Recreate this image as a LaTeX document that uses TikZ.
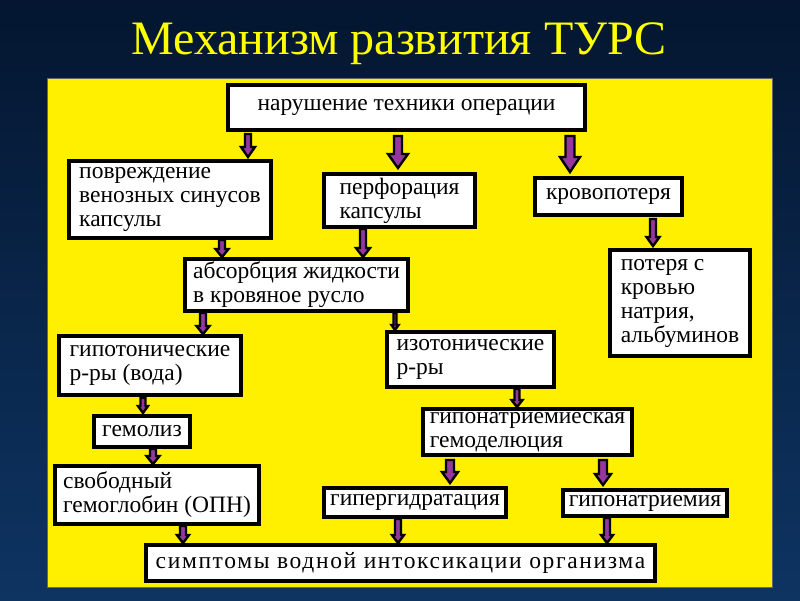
\documentclass[tikz,border=0pt]{standalone}
\usepackage{fontspec}
\setmainfont{Liberation Serif}
\usetikzlibrary{calc}
\definecolor{bgtop}{RGB}{4,22,48}
\definecolor{bgbot}{RGB}{14,52,98}
\definecolor{panel}{RGB}{255,240,0}
\definecolor{titleyellow}{RGB}{255,255,0}
\definecolor{flowviolet}{RGB}{150,55,160}

\begin{document}
\begin{tikzpicture}[x=1pt,y=-1pt,
    cause/.style={draw=black, line width=4pt, fill=white, align=left,
      inner xsep=6pt, inner ysep=0pt, font=\fontsize{23.5}{24}\selectfont},
    flow/.style={fill=flowviolet, draw=black, line width=2.4pt, line join=miter}]
  \useasboundingbox (0,0) rectangle (800,600);
  % background and panel
  \shade[top color=bgtop, bottom color=bgbot] (0,0) rectangle (800,600);
  \fill[panel] (47,78) rectangle (772,587);
  \draw[black!60, line width=0.8pt] (47,78) rectangle (772,587);
  \node[titleyellow, font=\fontsize{48}{54}\selectfont] (title) at (399,44) {Механизм развития ТУРС};
  % boxes
  \node[cause, align=center, minimum width=357, minimum height=45] (tech) at (406.5,107.5) {нарушение техники операции};
  \node[cause, minimum width=202, minimum height=77] (sinus) at (170,199.5) {повреждение\\венозных синусов\\капсулы};
  \node[cause, minimum width=151, minimum height=53] (perf) at (399.5,200.5) {перфорация\\капсулы};
  \node[cause, minimum width=147, minimum height=37] (loss) at (608.5,196.5) {кровопотеря};
  \node[cause, minimum width=223, minimum height=52] (absorb) at (296.5,285) {абсорбция жидкости\\в кровяное русло};
  \node[cause, minimum width=140, minimum height=106] (sodium) at (680,303) {потеря с\\кровью\\натрия,\\альбуминов};
  \node[cause, minimum width=182, minimum height=59] (hypo) at (150,365.5) {гипотонические\\р-ры (вода)};
  \node[cause, minimum width=167, minimum height=55] (iso) at (470.5,359.5) {изотонические\\р-ры};
  \node[cause, align=center, minimum width=96, minimum height=31] (hemol) at (142,431.5) {гемолиз};
  \node[cause, minimum width=209, minimum height=46] (dilut) at (527.5,432) {гипонатриемиеская\\гемоделюция};
  \node[cause, minimum width=204, minimum height=58] (hb) at (157,495) {свободный\\гемоглобин (ОПН)};
  \node[cause, minimum width=182, minimum height=29] (hyper) at (415,502.5) {гипергидратация};
  \node[cause, minimum width=160, minimum height=26] (hypona) at (645,503) {гипонатриемия};
  \node[cause, minimum width=509, minimum height=36] (sympt) at (400.5,563) {\addfontfeature{LetterSpace=7}симптомы водной интоксикации организма};
  % block arrows: x / from / to / shaft / head / head length / gap
  \foreach \xpos/\src/\dst/\s/\h/\l/\g in {
      248/tech/sinus/6/14/10/2, 398/tech/perf/8/20/14/4, 570/tech/loss/9/20/15/4,
      222/sinus/absorb/6/13/8/0, 363/perf/absorb/6/14/9/0, 653/loss/sodium/6/13/9/2,
      203/absorb/hypo/6/13/8/0, 395/absorb/iso/3/7/5/0, 143/hypo/hemol/5/10/7/1,
      517/iso/dilut/5/11/7/0, 153/hemol/hb/6/13/8/0, 450/dilut/hyper/8/16/11/3,
      603/dilut/hypona/8/16/11/3, 183/hb/sympt/6/12/8/0, 398/hyper/sympt/6/12/8/0,
      607/hypona/sympt/6/12/8/0}{
    \draw[flow] let \p1=(\src.south -| \xpos,0), \p2=(\dst.north -| \xpos,0) in
      ({\x1-\s/2},{\y1-\g}) -- ({\x1+\s/2},{\y1-\g}) -- ({\x1+\s/2},{\y2+\g+\l})
      -- ({\x1+\h/2},{\y2+\g+\l}) -- (\x1,{\y2+\g}) -- ({\x1-\h/2},{\y2+\g+\l})
      -- ({\x1-\s/2},{\y2+\g+\l}) -- cycle;
  }
\end{tikzpicture}
\end{document}
